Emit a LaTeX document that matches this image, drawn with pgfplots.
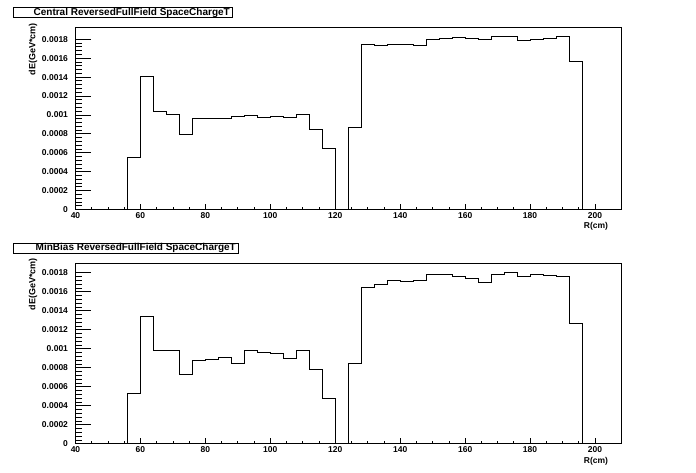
\documentclass[border=0pt]{standalone}
\usepackage{fontspec}
\setmainfont{Liberation Sans}
\usepackage{pgfplots}
\pgfplotsset{compat=1.18}
\pgfplotstableread{
x y
40 0
56 0.000556
60 0.001408
64 0.001042
68 0.001007
72 0.000795
76 0.000965
80 0.000965
84 0.000965
88 0.000982
92 0.000996
96 0.000975
100 0.000986
104 0.000975
108 0.001007
112 0.000852
116 0.000651
120 0
124 0.000870
128 0.001746
132 0.001736
136 0.001746
140 0.001746
144 0.001736
148 0.001799
152 0.001810
156 0.001820
160 0.001810
164 0.001799
168 0.001831
172 0.001831
176 0.001789
180 0.001799
184 0.001810
188 0.001831
192 0.001563
196 0
208 0
}\central
\pgfplotstableread{
x y
40 0
56 0.000530
60 0.001341
64 0.000983
68 0.000983
72 0.000730
76 0.000878
80 0.000888
84 0.000909
88 0.000846
92 0.000983
96 0.000962
100 0.000951
104 0.000899
108 0.000983
112 0.000783
116 0.000481
120 0
124 0.000846
128 0.001646
132 0.001678
136 0.001720
140 0.001709
144 0.001720
148 0.001783
152 0.001783
156 0.001762
160 0.001741
164 0.001699
168 0.001783
172 0.001804
176 0.001762
180 0.001783
184 0.001772
188 0.001762
192 0.001271
196 0
208 0
}\minbias
\pgfplotsset{
  rootaxis/.style={
    scale only axis,
    width=545.5pt,
    xmin=40, xmax=208, ymin=0,
    xtick={40,60,80,100,120,140,160,180,200},
    xticklabels={40,60,80,100,120,140,160,180,200},
    minor x tick num=3,
    ytick={0,0.0002,0.0004,0.0006,0.0008,0.001,0.0012,0.0014,0.0016,0.0018},
    yticklabels={0,0.0002,0.0004,0.0006,0.0008,0.001,0.0012,0.0014,0.0016,0.0018},
    minor y tick num=4,
    tick pos=left,
    tick align=inside,
    axis line style={line width=0.8pt},
    every tick/.style={black, line width=0.8pt},
    xtick style={/pgfplots/major tick length=6pt, /pgfplots/minor tick length=3pt},
    ytick style={/pgfplots/major tick length=16pt, /pgfplots/minor tick length=7pt},
    ticklabel style={font=\fontsize{8.5}{9}\selectfont\bfseries},
    yticklabel style={xshift=-4pt},
    xticklabel style={yshift=1pt},
    scaled y ticks=false,
  }
}
\begin{document}
\begin{tikzpicture}[x=1pt,y=1pt]
\useasboundingbox (0,0) rectangle (696,-472);
\fill[white] (0,0) rectangle (696,-472);
\coordinate (TopSW) at (75.5,-209.6);
\coordinate (BotSW) at (75.5,-443.7);
% top panel
\begin{axis}[rootaxis, height=182.3pt, ymax=0.001926, at={(TopSW)}, anchor=south west]
\addplot[const plot mark left, black, line width=0.8pt] table[x=x,y=y] {\central};
\end{axis}
\draw[line width=0.8pt] (13.3,-7.3) rectangle (232.3,-17.3);
\node[anchor=east, inner sep=0pt, font=\fontsize{10}{11}\selectfont\bfseries] at (230,-12.5) {Central ReversedFullField SpaceChargeT};
\node[rotate=90, anchor=east, inner sep=0pt, font=\fontsize{9}{10}\selectfont\bfseries] at (33,-23) {dE(GeV*cm)};
\node[inner sep=0pt, font=\fontsize{8.5}{9}\selectfont\bfseries] at (596,-226) {R(cm)};
% bottom panel
\begin{axis}[rootaxis, height=180pt, ymax=0.001895, at={(BotSW)}, anchor=south west]
\addplot[const plot mark left, black, line width=0.8pt] table[x=x,y=y] {\minbias};
\end{axis}
\draw[line width=0.8pt] (13.3,-243.5) rectangle (238,-253);
\node[anchor=east, inner sep=0pt, font=\fontsize{10}{11}\selectfont\bfseries] at (236,-248.3) {MinBias ReversedFullField SpaceChargeT};
\node[rotate=90, anchor=east, inner sep=0pt, font=\fontsize{9}{10}\selectfont\bfseries] at (33,-258) {dE(GeV*cm)};
\node[inner sep=0pt, font=\fontsize{8.5}{9}\selectfont\bfseries] at (596,-461) {R(cm)};
\end{tikzpicture}
\end{document}
